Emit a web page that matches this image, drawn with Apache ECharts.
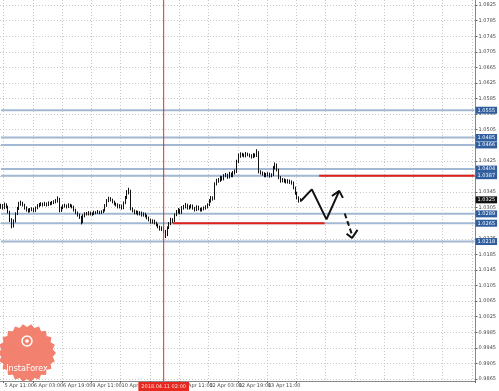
<!DOCTYPE html>
<html><head><meta charset="utf-8">
<script src="https://cdn.jsdelivr.net/npm/echarts@6/dist/echarts.min.js"></script>
<style>html,body{margin:0;padding:0;background:#fff}#c{width:499px;height:391px}</style>
</head><body><div id="c"></div>
<script>
// ---- data ----
const opens = [1.0306,1.0310,1.0304,1.0312,1.0307,1.0294,1.0274,1.0258,1.0271,1.0289,
1.0302,1.0315,1.0317,1.0312,1.0304,1.0299,1.0297,1.0299,1.0302,1.0297,
1.0304,1.0310,1.0312,1.0315,1.0312,1.0315,1.0312,1.0317,1.0315,1.0317,
1.0320,1.0322,1.0328,1.0297,1.0304,1.0310,1.0310,1.0307,1.0312,1.0310,
1.0307,1.0299,1.0292,1.0286,1.0281,1.0268,1.0284,1.0289,1.0289,1.0292,
1.0289,1.0289,1.0292,1.0292,1.0294,1.0292,1.0294,1.0297,1.0310,1.0322,
1.0328,1.0325,1.0320,1.0315,1.0312,1.0307,1.0310,1.0304,1.0317,1.0330,
1.0343,1.0348,1.0302,1.0297,1.0292,1.0294,1.0289,1.0292,1.0286,1.0289,
1.0284,1.0279,1.0274,1.0268,1.0271,1.0266,1.0261,1.0256,1.0250,1.0253,
1.0245,1.0235,1.0253,1.0263,1.0274,1.0271,1.0286,1.0294,1.0299,1.0292,
1.0304,1.0307,1.0312,1.0304,1.0307,1.0310,1.0304,1.0299,1.0307,1.0302,
1.0299,1.0302,1.0304,1.0307,1.0312,1.0322,1.0330,1.0328,1.0366,1.0374,
1.0376,1.0382,1.0379,1.0387,1.0389,1.0384,1.0392,1.0387,1.0394,1.0397,
1.0423,1.0438,1.0441,1.0441,1.0438,1.0443,1.0441,1.0438,1.0436,1.0441,
1.0438,1.0448,1.0397,1.0394,1.0392,1.0387,1.0389,1.0392,1.0387,1.0389,
1.0407,1.0415,1.0402,1.0382,1.0374,1.0376,1.0374,1.0371,1.0374,1.0371,
1.0369,1.0356,1.0343,1.0330,1.0322];
const closes = [1.0310,1.0304,1.0312,1.0307,1.0294,1.0274,1.0258,1.0271,1.0289,1.0302,
1.0315,1.0317,1.0312,1.0304,1.0299,1.0297,1.0299,1.0302,1.0297,1.0304,
1.0310,1.0312,1.0315,1.0312,1.0315,1.0312,1.0317,1.0315,1.0317,1.0320,
1.0322,1.0328,1.0297,1.0304,1.0310,1.0310,1.0307,1.0312,1.0310,1.0307,
1.0299,1.0292,1.0286,1.0281,1.0268,1.0284,1.0289,1.0289,1.0292,1.0289,
1.0289,1.0292,1.0292,1.0294,1.0292,1.0294,1.0297,1.0310,1.0322,1.0328,
1.0325,1.0320,1.0315,1.0312,1.0307,1.0310,1.0304,1.0317,1.0330,1.0343,
1.0348,1.0302,1.0297,1.0292,1.0294,1.0289,1.0292,1.0286,1.0289,1.0284,
1.0279,1.0274,1.0268,1.0271,1.0266,1.0261,1.0256,1.0250,1.0253,1.0245,
1.0235,1.0253,1.0263,1.0274,1.0271,1.0286,1.0294,1.0299,1.0292,1.0304,
1.0307,1.0312,1.0304,1.0307,1.0310,1.0304,1.0299,1.0307,1.0302,1.0299,
1.0302,1.0304,1.0307,1.0312,1.0322,1.0330,1.0328,1.0366,1.0374,1.0376,
1.0382,1.0379,1.0387,1.0389,1.0384,1.0392,1.0387,1.0394,1.0397,1.0423,
1.0438,1.0441,1.0441,1.0438,1.0443,1.0441,1.0438,1.0436,1.0441,1.0438,
1.0448,1.0397,1.0394,1.0392,1.0387,1.0389,1.0392,1.0387,1.0389,1.0407,
1.0415,1.0402,1.0382,1.0374,1.0376,1.0374,1.0371,1.0374,1.0371,1.0369,
1.0356,1.0343,1.0330,1.0322,1.0325];
const highs = [1.0315,1.0314,1.0318,1.0316,1.0310,1.0297,1.0278,1.0275,1.0293,1.0307,
1.0320,1.0323,1.0320,1.0315,1.0308,1.0303,1.0304,1.0306,1.0305,1.0308,
1.0314,1.0317,1.0319,1.0318,1.0320,1.0318,1.0321,1.0320,1.0322,1.0324,
1.0327,1.0334,1.0330,1.0308,1.0313,1.0315,1.0313,1.0316,1.0315,1.0313,
1.0310,1.0302,1.0295,1.0290,1.0284,1.0288,1.0293,1.0294,1.0296,1.0295,
1.0293,1.0297,1.0296,1.0299,1.0297,1.0298,1.0301,1.0314,1.0327,1.0333,
1.0332,1.0328,1.0323,1.0318,1.0316,1.0314,1.0313,1.0321,1.0335,1.0350,
1.0356,1.0351,1.0306,1.0300,1.0298,1.0297,1.0296,1.0295,1.0293,1.0292,
1.0287,1.0282,1.0277,1.0275,1.0274,1.0269,1.0264,1.0259,1.0257,1.0256,
1.0248,1.0257,1.0268,1.0279,1.0278,1.0290,1.0299,1.0304,1.0302,1.0309,
1.0312,1.0317,1.0315,1.0311,1.0314,1.0313,1.0307,1.0311,1.0310,1.0305,
1.0306,1.0308,1.0311,1.0316,1.0327,1.0335,1.0334,1.0370,1.0379,1.0381,
1.0387,1.0386,1.0391,1.0394,1.0392,1.0397,1.0395,1.0399,1.0403,1.0428,
1.0444,1.0447,1.0446,1.0444,1.0448,1.0446,1.0444,1.0442,1.0445,1.0444,
1.0455,1.0450,1.0401,1.0398,1.0396,1.0394,1.0396,1.0395,1.0393,1.0412,
1.0421,1.0418,1.0405,1.0386,1.0381,1.0380,1.0378,1.0378,1.0377,1.0375,
1.0372,1.0359,1.0346,1.0334,1.0329];
const lows = [1.0302,1.0300,1.0301,1.0303,1.0290,1.0268,1.0252,1.0254,1.0267,1.0286,
1.0299,1.0310,1.0308,1.0300,1.0295,1.0292,1.0293,1.0296,1.0293,1.0294,
1.0301,1.0306,1.0309,1.0308,1.0309,1.0308,1.0309,1.0311,1.0312,1.0314,
1.0316,1.0318,1.0293,1.0294,1.0301,1.0305,1.0303,1.0304,1.0306,1.0303,
1.0295,1.0288,1.0282,1.0276,1.0262,1.0265,1.0280,1.0285,1.0285,1.0285,
1.0284,1.0286,1.0288,1.0289,1.0288,1.0289,1.0291,1.0295,1.0307,1.0319,
1.0321,1.0316,1.0311,1.0308,1.0303,1.0303,1.0300,1.0301,1.0314,1.0327,
1.0339,1.0298,1.0293,1.0288,1.0288,1.0285,1.0285,1.0282,1.0282,1.0280,
1.0275,1.0270,1.0264,1.0264,1.0262,1.0257,1.0252,1.0246,1.0245,1.0240,
1.0227,1.0232,1.0250,1.0260,1.0266,1.0268,1.0283,1.0290,1.0288,1.0289,
1.0300,1.0303,1.0300,1.0300,1.0303,1.0300,1.0295,1.0296,1.0298,1.0295,
1.0295,1.0298,1.0300,1.0303,1.0309,1.0318,1.0323,1.0325,1.0362,1.0369,
1.0371,1.0374,1.0375,1.0383,1.0379,1.0380,1.0383,1.0383,1.0390,1.0394,
1.0419,1.0433,1.0436,1.0434,1.0434,1.0437,1.0434,1.0431,1.0432,1.0434,
1.0435,1.0393,1.0390,1.0387,1.0383,1.0383,1.0385,1.0382,1.0383,1.0386,
1.0403,1.0398,1.0378,1.0369,1.0370,1.0369,1.0367,1.0367,1.0366,1.0364,
1.0352,1.0338,1.0326,1.0318,1.0320];
const yTicks = [0.9865,0.9905,0.9945,0.9985,1.0025,1.0065,1.0105,1.0145,1.0185,1.0225,
1.0265,1.0305,1.0345,1.0385,1.0425,1.0465,1.0505,1.0545,1.0585,1.0625,1.0665,1.0705,1.0745,1.0785,1.0825];
const levels = [1.0555,1.0485,1.0466,1.0404,1.0387,1.0289,1.0265,1.0218];
const currentPrice = 1.0325;
const crossIndex = 89;
const crossLabel = '2018.04.11 02:00';
const redUpper = {from:174, to:259, price:1.0387};
const redLower = {from:94, to:177, price:1.0265};
const arrowPath = [[164,1.0322],[170,1.0352],[178,1.0275],[185,1.0348]];
const arrowHeadUp = [[181,1.0335],[185,1.0348],[187,1.0330]];
const dashPath = [[188,1.0290],[192,1.0235]];
const arrowHeadDown = [[189,1.0238],[192,1.0227],[195,1.0248]];
const totalSlots = 260;
const yMin = 0.9860, yMax = 1.0838;
const tickStart = 2, tickStep = 16, lastTick = 162;

// categories: hourly bars from 5 Apr 2018 09:00 skipping weekends
const cats = [];
(function(){
  let d = new Date(Date.UTC(2018,3,5,9));
  while (cats.length < totalSlots) {
    const wd = d.getUTCDay();
    if (wd !== 0 && wd !== 6) {
      const hh = String(d.getUTCHours()).padStart(2,'0');
      cats.push(d.getUTCDate() + ' Apr ' + hh + ':00');
    }
    d = new Date(d.getTime() + 3600000);
  }
})();

const candles = opens.map((o,i)=>[o, closes[i], lows[i], highs[i]]);
const toXY = arr => arr.map(p => [cats[p[0]], p[1]]);
const isTick = i => i >= tickStart && (i - tickStart) % tickStep === 0;
const firstCat = cats[0], lastCat = cats[totalSlots-1];

const chart = echarts.init(document.getElementById('c'), null, {renderer:'canvas'});

// logo badge shape
const badgePts = [];
(function(){
  const cx = 27, cy = 353, n = 22;
  for (let k = 0; k < n*2; k++) {
    const r = k % 2 === 0 ? 29 : 26;
    const a = Math.PI * k / n;
    badgePts.push([cx + r*Math.cos(a), cy + r*Math.sin(a)]);
  }
})();

const FF = 'DejaVu Sans';
const LEVEL = '#a3b8d2', RED = '#e0201a', CROSS = '#e8281e';
const boxLabel = (v, bg) => ({show:true, formatter: v.toFixed(4), distance:1,
  backgroundColor:bg, color:'#fff', fontSize:5, padding:[1,2,1,2], fontFamily:FF});

const levelSeries = levels.map(v => ({
  type:'line', silent:true, z:1, symbol:'none',
  data:[[firstCat, v],[lastCat, v]],
  lineStyle:{color:LEVEL, width:2},
  endLabel:boxLabel(v, '#2f5e9e')
}));
const priceSeries = {
  type:'line', silent:true, z:6, symbol:'none',
  data:[[firstCat, currentPrice],[lastCat, currentPrice]],
  lineStyle:{width:0, opacity:0},
  endLabel:boxLabel(currentPrice, '#111')
};
const redSeries = [redUpper, redLower].map(r => ({
  type:'line', silent:true, z:3, symbol:'none',
  data:[[cats[r.from], r.price],[cats[r.to], r.price]],
  lineStyle:{color:RED, width:2}
}));
const crossSeries = {
  type:'line', silent:true, z:4, symbol:'circle', symbolSize:0, showSymbol:true,
  itemStyle:{color:CROSS},
  data:[
    {value:[cats[crossIndex], yMin], label:{show:true, position:'bottom', distance:1, formatter:crossLabel,
      backgroundColor:CROSS, color:'#ffdede', fontSize:5, padding:[2,3,2,3], fontFamily:FF}},
    {value:[cats[crossIndex], yMax]}
  ],
  lineStyle:{color:CROSS, width:1}
};

chart.setOption({
  animation:false,
  backgroundColor:'#ffffff',
  grid:{left:0, right:19, top:0, bottom:10},
  xAxis:{
    type:'category', data:cats, boundaryGap:true,
    axisLine:{show:true, lineStyle:{color:'#888', width:1}},
    axisTick:{show:true, length:2, interval:(i)=>isTick(i) && i<=lastTick, lineStyle:{color:'#666'}},
    axisLabel:{show:true, interval:(i)=>isTick(i) && i<=lastTick, fontSize:5, color:'#444', margin:2,
      align:'left', fontFamily:FF},
    splitLine:{show:true, interval:(i)=>isTick(i), lineStyle:{color:'#c9c9c9', type:[1,2], width:1}}
  },
  yAxis:{
    type:'value', position:'right', min:yMin, max:yMax, scale:true,
    axisLine:{show:true, lineStyle:{color:'#888', width:1}},
    axisTick:{show:true, length:2, customValues:yTicks, lineStyle:{color:'#666'}},
    axisLabel:{show:true, customValues:yTicks, formatter:v=>v.toFixed(4), fontSize:5, color:'#444', margin:3,
      fontFamily:FF},
    splitLine:{show:true, lineStyle:{color:'#c9c9c9', type:[1,2], width:1}}
  },
  graphic:[
    {type:'polygon', shape:{points:badgePts}, style:{fill:'#f2735f', opacity:0.9}, z:100},
    {type:'circle', shape:{cx:27, cy:341, r:5}, style:{fill:'none', stroke:'#fff', lineWidth:1.5}, z:101},
    {type:'circle', shape:{cx:27, cy:341, r:1.8}, style:{fill:'#fff'}, z:101},
    {type:'text', style:{x:27, y:369, text:'InstaForex', fill:'#fff', fontSize:8, fontFamily:FF, align:'center', verticalAlign:'middle'}, z:101}
  ],
  series:[
    ...levelSeries,
    ...redSeries,
    {
      type:'candlestick', data:candles, barWidth:1.2, z:2,
      itemStyle:{color:'#ffffff', color0:'#111111', borderColor:'#111111', borderColor0:'#111111', borderWidth:1}
    },
    crossSeries,
    priceSeries,
    {type:'line', data:toXY(arrowPath), symbol:'none', lineStyle:{color:'#111', width:2}, z:5},
    {type:'line', data:toXY(arrowHeadUp), symbol:'none', lineStyle:{color:'#111', width:2}, z:5},
    {type:'line', data:toXY(dashPath), symbol:'none', lineStyle:{color:'#111', width:2, type:[5,3]}, z:5},
    {type:'line', data:toXY(arrowHeadDown), symbol:'none', lineStyle:{color:'#111', width:2}, z:5}
  ]
});
</script></body></html>
